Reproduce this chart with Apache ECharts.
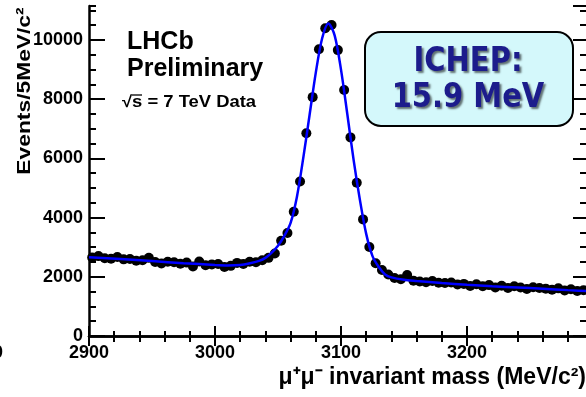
<!DOCTYPE html>
<html>
<head>
<meta charset="utf-8">
<script src="https://cdn.jsdelivr.net/npm/echarts@6/dist/echarts.min.js"></script>
<style>
html, body { margin: 0; padding: 0; background: #fff; overflow: hidden; }
#chart { width: 600px; height: 397px; }
</style>
</head>
<body>
<div id="chart"></div>
<script>
// mu+mu- invariant mass, 5 MeV bins
const binMass = [
  2902.5, 2907.5, 2912.5, 2917.5, 2922.5, 2927.5, 2932.5, 2937.5, 2942.5, 2947.5,
  2952.5, 2957.5, 2962.5, 2967.5, 2972.5, 2977.5, 2982.5, 2987.5, 2992.5, 2997.5,
  3002.5, 3007.5, 3012.5, 3017.5, 3022.5, 3027.5, 3032.5, 3037.5, 3042.5, 3047.5,
  3052.5, 3057.5, 3062.5, 3067.5, 3072.5, 3077.5, 3082.5, 3087.5, 3092.5, 3097.5,
  3102.5, 3107.5, 3112.5, 3117.5, 3122.5, 3127.5, 3132.5, 3137.5, 3142.5, 3147.5,
  3152.5, 3157.5, 3162.5, 3167.5, 3172.5, 3177.5, 3182.5, 3187.5, 3192.5, 3197.5,
  3202.5, 3207.5, 3212.5, 3217.5, 3222.5, 3227.5, 3232.5, 3237.5, 3242.5, 3247.5,
  3252.5, 3257.5, 3262.5, 3267.5, 3272.5, 3277.5, 3282.5, 3287.5, 3292.5, 3297.5
];
const binEvents = [
  2650, 2700, 2630, 2610, 2670, 2590, 2600, 2540, 2560, 2640,
  2500, 2450, 2510, 2490, 2440, 2480, 2350, 2520, 2390, 2420,
  2430, 2330, 2370, 2470, 2430, 2510, 2490, 2560, 2640, 2790,
  3220, 3480, 4200, 5220, 6850, 8070, 9690, 10400, 10510, 9660,
  8310, 6710, 5180, 3940, 3010, 2460, 2230, 2080, 1960, 1920,
  2060, 1870, 1840, 1820, 1860, 1800, 1790, 1810, 1740, 1760,
  1690, 1750, 1680, 1720, 1640, 1700, 1620, 1680, 1640, 1590,
  1650, 1620, 1600, 1560, 1610, 1540, 1580, 1520, 1550, 1500
];

// fitted curve
const fitMass = [
  2900, 2925, 2950, 2975, 3000, 3010, 3020, 3027, 3035, 3040,
  3045, 3050, 3055, 3060, 3065, 3070, 3075, 3080, 3085, 3090,
  3095, 3100, 3105, 3110, 3115, 3120, 3125, 3130, 3135, 3140,
  3150, 3160, 3180, 3200, 3220, 3240, 3260, 3280, 3300
];
const fitEvents = [
  2660, 2600, 2530, 2460, 2400, 2385, 2400, 2450, 2540, 2640,
  2820, 3050, 3380, 3820, 4700, 6000, 7450, 8900, 10050, 10560,
  10150, 9000, 7500, 5950, 4600, 3450, 2700, 2330, 2080, 1980,
  1900, 1860, 1790, 1730, 1680, 1640, 1600, 1550, 1510
];

const font = '"Liberation Sans", Arial, Helvetica, sans-serif';
const plain = v => String(v);

const chart = echarts.init(document.getElementById('chart'));

const baseX = { type: 'value', min: 2900, max: 3300, interval: 100, splitLine: { show: false } };
const baseY = { type: 'value', min: 0, max: 11150, splitLine: { show: false } };

chart.setOption({
  animation: false,
  backgroundColor: '#fff',
  grid: { left: 89, top: 6, width: 504, height: 330, outerBoundsMode: 'none' },
  xAxis: [
    Object.assign({}, baseX, {
      position: 'bottom',
      axisLine: { show: true, lineStyle: { color: '#000', width: 2.5 } },
      axisTick: { show: true, inside: true, length: 10, lineStyle: { color: '#000', width: 2 } },
      minorTick: { show: true, splitNumber: 5, length: 5, lineStyle: { color: '#000', width: 2 } },
      axisLabel: { color: '#000', fontFamily: font, fontWeight: 'bold', fontSize: 18, margin: 8, showMaxLabel: false, formatter: plain }
    }),
    Object.assign({}, baseX, {
      position: 'top',
      axisLine: { show: true, lineStyle: { color: '#000', width: 2.5 } },
      axisTick: { show: true, inside: true, length: 10, lineStyle: { color: '#000', width: 2 } },
      minorTick: { show: true, splitNumber: 5, length: 6, lineStyle: { color: '#000', width: 2 } },
      axisLabel: { show: false }
    })
  ],
  yAxis: [
    Object.assign({}, baseY, {
      position: 'left', interval: 2000,
      axisLine: { show: true, lineStyle: { color: '#000', width: 2.5 } },
      axisTick: { show: true, inside: true, length: 16, lineStyle: { color: '#000', width: 2 } },
      axisLabel: { color: '#000', fontFamily: font, fontWeight: 'bold', fontSize: 18, margin: 6, showMaxLabel: false, formatter: plain }
    }),
    Object.assign({}, baseY, {
      position: 'left', interval: 500,
      axisLine: { show: false },
      axisTick: { show: true, inside: true, length: 7, lineStyle: { color: '#000', width: 2 } },
      axisLabel: { show: false }
    }),
    Object.assign({}, baseY, {
      position: 'right', interval: 2000,
      axisLine: { show: true, lineStyle: { color: '#000', width: 2.5 } },
      axisTick: { show: true, inside: true, length: 20, lineStyle: { color: '#000', width: 2 } },
      axisLabel: { show: false }
    }),
    Object.assign({}, baseY, {
      position: 'right', interval: 500,
      axisLine: { show: false },
      axisTick: { show: true, inside: true, length: 13, lineStyle: { color: '#000', width: 2 } },
      axisLabel: { show: false }
    })
  ],
  series: [
    {
      type: 'scatter',
      xAxisIndex: 0, yAxisIndex: 0,
      data: binMass.map((m, i) => [m, binEvents[i]]),
      symbol: 'circle', symbolSize: 10,
      itemStyle: { color: '#000', opacity: 1 },
      z: 2
    },
    {
      type: 'line',
      xAxisIndex: 0, yAxisIndex: 0,
      data: fitMass.map((m, i) => [m, fitEvents[i]]),
      smooth: 0.3,
      showSymbol: false,
      lineStyle: { color: '#0000ff', width: 2.5 },
      z: 3
    }
  ],
  graphic: [
    {
      type: 'text', x: 25, y: 91, rotation: Math.PI / 2, scaleX: 1.2,
      style: { text: 'Events/5MeV/c²', font: 'bold 19px ' + font, fill: '#000', align: 'center', verticalAlign: 'middle' }
    },
    {
      type: 'text', x: 586, y: 378,
      style: { text: 'μ⁺μ⁻ invariant mass (MeV/c²)', font: 'bold 23px ' + font, fill: '#000', align: 'right', verticalAlign: 'middle' }
    },
    {
      type: 'text', x: 3, y: 353,
      style: { text: '0', font: 'bold 18px ' + font, fill: '#000', align: 'right', verticalAlign: 'middle' }
    },
    {
      type: 'text', x: 127, y: 42,
      style: { text: 'LHCb', font: 'bold 25px ' + font, fill: '#000', align: 'left', verticalAlign: 'middle' }
    },
    {
      type: 'text', x: 127, y: 69,
      style: { text: 'Preliminary', font: 'bold 25px ' + font, fill: '#000', align: 'left', verticalAlign: 'middle' }
    },
    {
      type: 'text', x: 122, y: 103, scaleX: 1.15,
      style: { text: '√s = 7 TeV Data', font: 'bold 16px ' + font, fill: '#000', align: 'left', verticalAlign: 'middle' }
    },
    {
      type: 'line', shape: { x1: 132, y1: 95, x2: 142, y2: 95 },
      style: { stroke: '#000', lineWidth: 1.3 }
    },
    {
      type: 'rect', shape: { x: 365, y: 32, width: 208, height: 94, r: 16 },
      style: { fill: '#d4f8fb', stroke: '#000', lineWidth: 2 }
    },
    {
      type: 'text', x: 468, y: 62, scaleY: 1.15,
      style: {
        text: 'ICHEP:', font: 'bold 29px "DejaVu Sans", sans-serif', fill: '#1c1c8c', align: 'center', verticalAlign: 'middle',
        textShadowColor: 'rgba(0,0,0,0.55)', textShadowBlur: 2, textShadowOffsetX: 2, textShadowOffsetY: 2
      }
    },
    {
      type: 'text', x: 468, y: 98, scaleY: 1.15,
      style: {
        text: '15.9 MeV', font: 'bold 29px "DejaVu Sans", sans-serif', fill: '#1c1c8c', align: 'center', verticalAlign: 'middle',
        textShadowColor: 'rgba(0,0,0,0.55)', textShadowBlur: 2, textShadowOffsetX: 2, textShadowOffsetY: 2
      }
    }
  ]
});
</script>
</body>
</html>
